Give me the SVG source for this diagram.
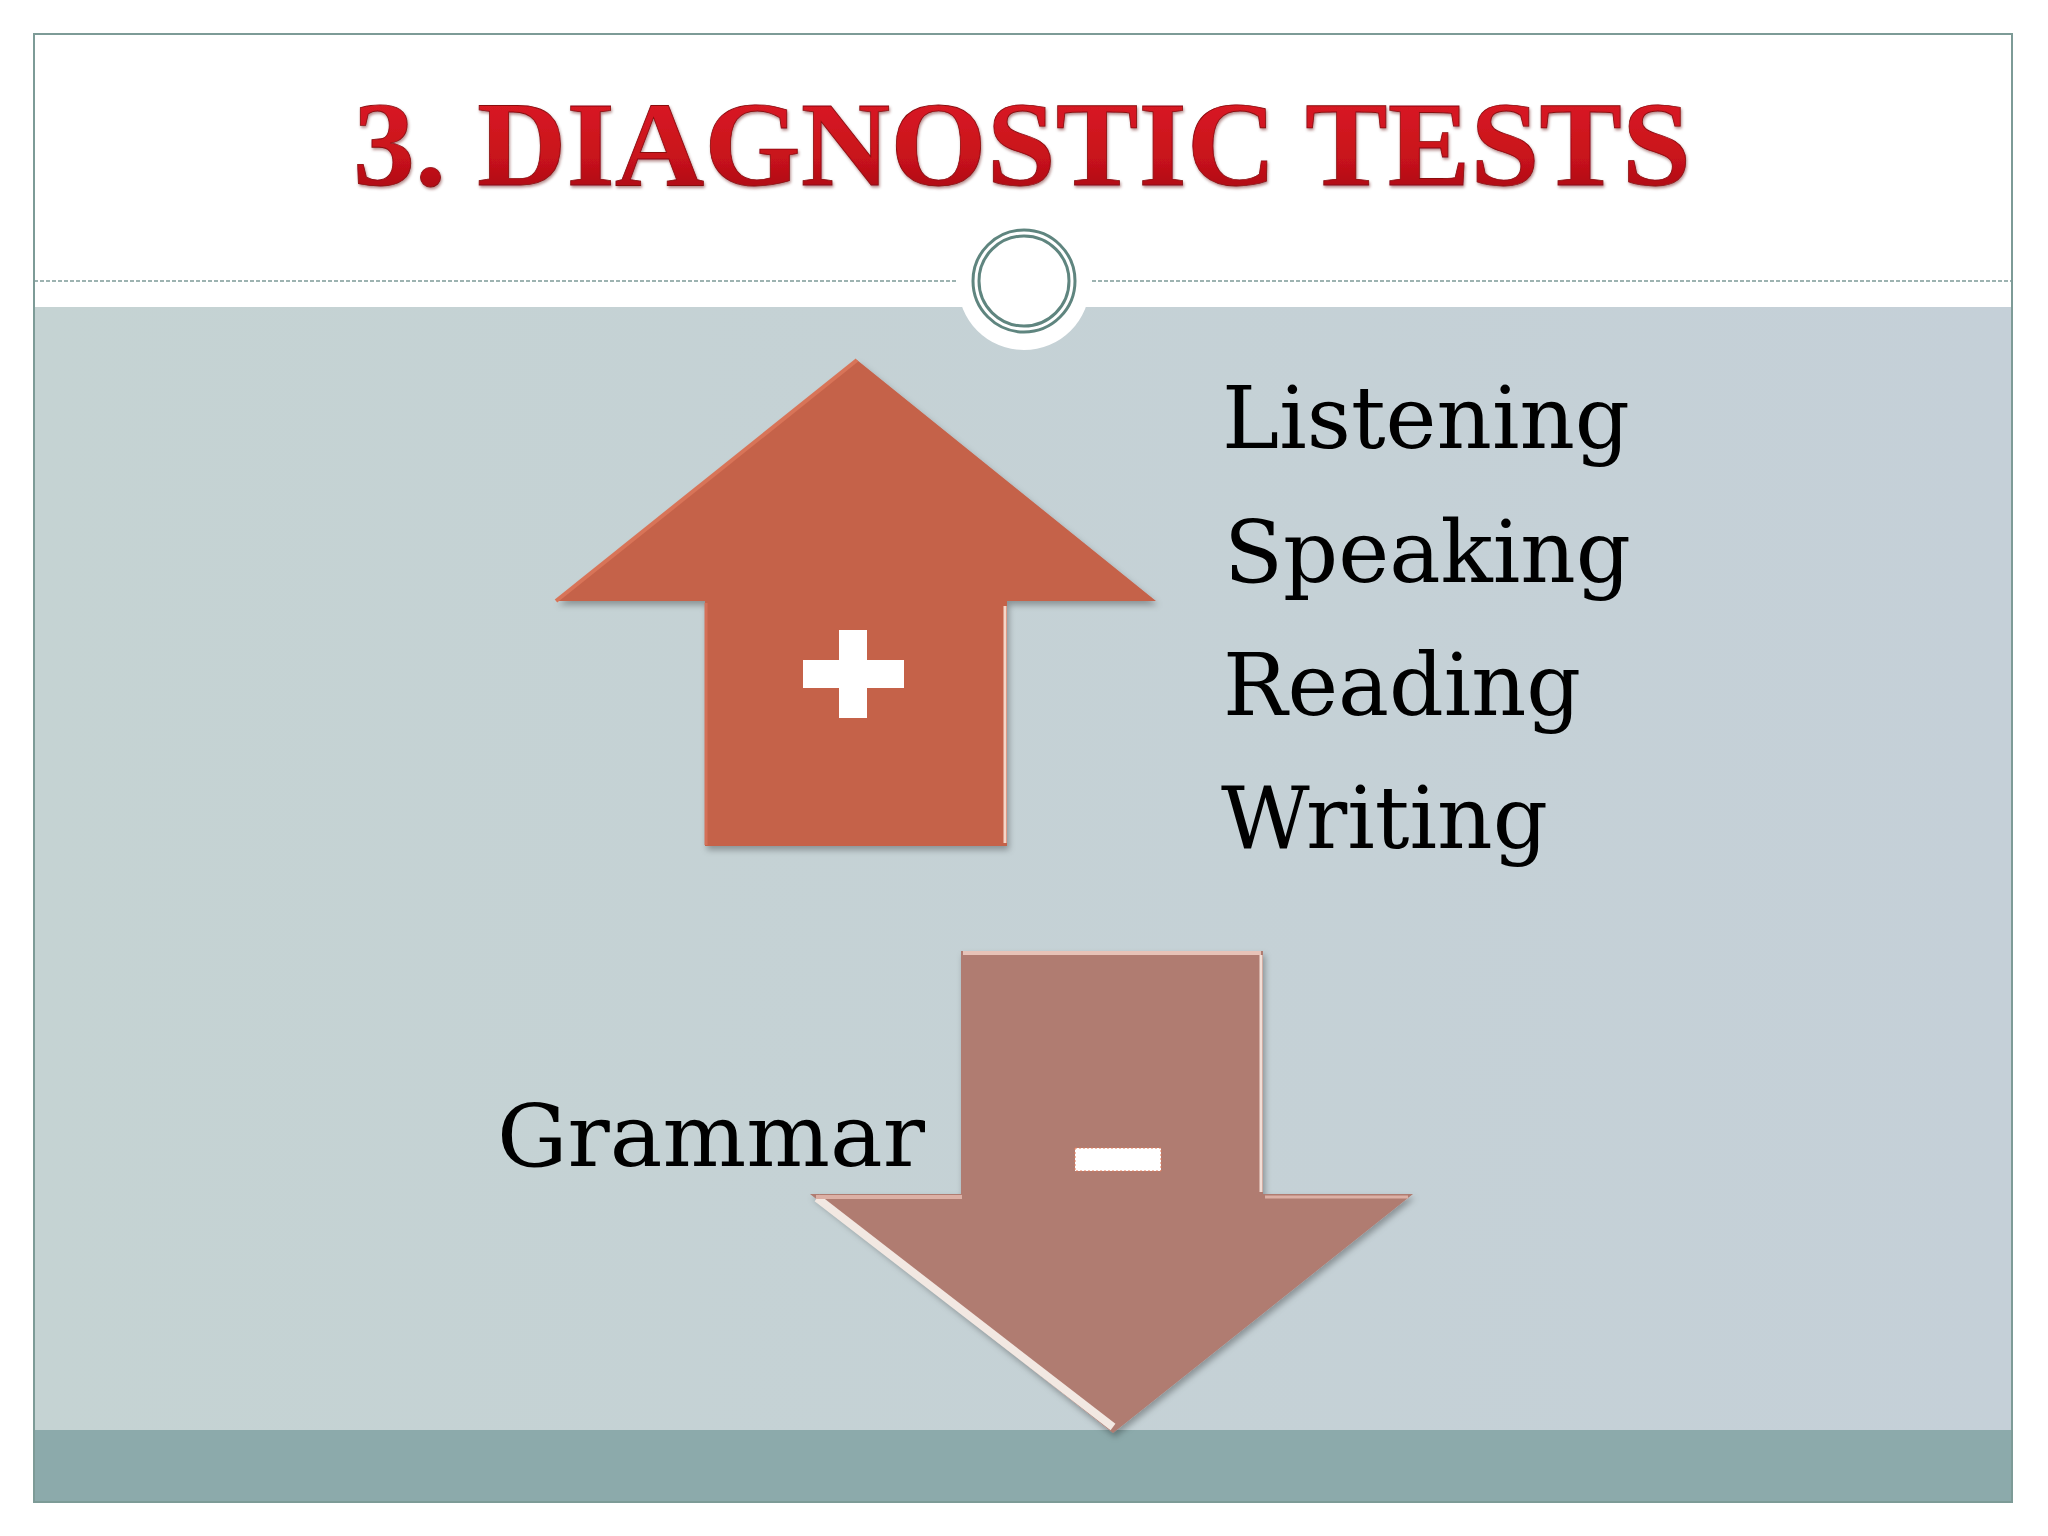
<svg xmlns="http://www.w3.org/2000/svg" width="2048" height="1536" viewBox="0 0 2048 1536">
<defs>
<style>
.skill{font-family:"DejaVu Serif","Liberation Serif",serif;font-size:86px;fill:#000}
.ring{fill:none;stroke:#5f857f;stroke-width:3}
</style>
<linearGradient id="titleGrad" x1="0" y1="0" x2="0" y2="1">
<stop offset="0" stop-color="#e01e28"/>
<stop offset="0.6" stop-color="#c8121b"/>
<stop offset="1" stop-color="#9e0b12"/>
</linearGradient>
<linearGradient id="bgGrad" x1="0" y1="0" x2="1" y2="0">
<stop offset="0" stop-color="#c5d3d3"/>
<stop offset="1" stop-color="#c5d0d8"/>
</linearGradient>
<filter id="shadow" x="-10%" y="-10%" width="130%" height="130%">
<feDropShadow dx="2" dy="4" stdDeviation="3" flood-color="#000" flood-opacity="0.3"/>
</filter>
<filter id="tshadow" x="-5%" y="-10%" width="110%" height="130%">
<feDropShadow dx="1" dy="2" stdDeviation="1.5" flood-color="#5a0000" flood-opacity="0.45"/>
</filter>
</defs>

<g id="slide">
<rect x="0" y="0" width="2048" height="1536" fill="#ffffff"/>
<rect x="34" y="307" width="1978" height="1124" fill="url(#bgGrad)"/>
<rect x="34" y="1430" width="1978" height="72" fill="#8caaab"/>
<rect x="34" y="34" width="1978" height="1468" fill="none" stroke="#7d9b97" stroke-width="2"/>
<line x1="34" y1="281" x2="958" y2="281" stroke="#7d9b98" stroke-width="1.5" stroke-dasharray="4,2"/>
<line x1="1092" y1="281" x2="2012" y2="281" stroke="#7d9b98" stroke-width="1.5" stroke-dasharray="4,2"/>
</g>

<g id="title">
<text x="353" y="185" font-family="'Liberation Serif', serif" font-weight="bold" font-size="120" fill="url(#titleGrad)" stroke="#8a0a10" stroke-width="0.8" textLength="1338" lengthAdjust="spacingAndGlyphs" filter="url(#tshadow)">3. DIAGNOSTIC TESTS</text>
</g>

<g id="circle-ornament">
<circle cx="1024" cy="284" r="66" fill="#ffffff"/>
<circle class="ring" cx="1024" cy="281" r="51"/>
<circle class="ring" cx="1024" cy="281" r="45" stroke-width="2.5"/>
</g>

<g id="arrow-up">
<polygon points="857,360 1156,601 1007,601 1007,846 705,846 705,601 556,601" fill="#c5624a" filter="url(#shadow)"/>
<polyline points="556,601 857,360" fill="none" stroke="#d87458" stroke-width="4"/>
<line x1="706" y1="603" x2="706" y2="845" stroke="#d47058" stroke-width="3"/>
<line x1="1005" y1="606" x2="1005" y2="843" stroke="#f4d6c8" stroke-width="3"/>
<g id="plus">
<rect x="803" y="660" width="101" height="28" fill="#ffffff"/>
<rect x="839" y="630" width="28" height="88" fill="#ffffff"/>
</g>
</g>

<g id="arrow-down">
<polygon points="961,951 1263,951 1263,1194 1413,1194 1113,1433 810,1194 961,1194" fill="#b07b71" filter="url(#shadow)"/>
<polyline points="963,953 1261,953" fill="none" stroke="#e7c3b8" stroke-width="4"/>
<polyline points="817,1198 1113,1427" fill="none" stroke="#f2e8e2" stroke-width="8"/>
<polyline points="816,1197 962,1197" fill="none" stroke="#dcb0a5" stroke-width="4"/>
<polyline points="1265,1197 1408,1197" fill="none" stroke="#dcb0a5" stroke-width="3"/>
<line x1="1261" y1="955" x2="1261" y2="1192" stroke="#f2ded6" stroke-width="3"/>
<g id="minus">
<rect x="1075" y="1148" width="86" height="23" fill="#ffffff" stroke="#e07a5a" stroke-width="1" stroke-dasharray="2,2"/>
</g>
</g>

<g id="skills-plus">
<text class="skill" x="1222" y="448" textLength="408" lengthAdjust="spacingAndGlyphs">Listening</text>
<text class="skill" x="1224" y="582" textLength="407" lengthAdjust="spacingAndGlyphs">Speaking</text>
<text class="skill" x="1223" y="715" textLength="358" lengthAdjust="spacingAndGlyphs">Reading</text>
<text class="skill" x="1221" y="848" textLength="327" lengthAdjust="spacingAndGlyphs">Writing</text>
</g>

<g id="skills-minus">
<text class="skill" x="497" y="1166" font-size="88" textLength="428" lengthAdjust="spacingAndGlyphs">Grammar</text>
</g>
</svg>
